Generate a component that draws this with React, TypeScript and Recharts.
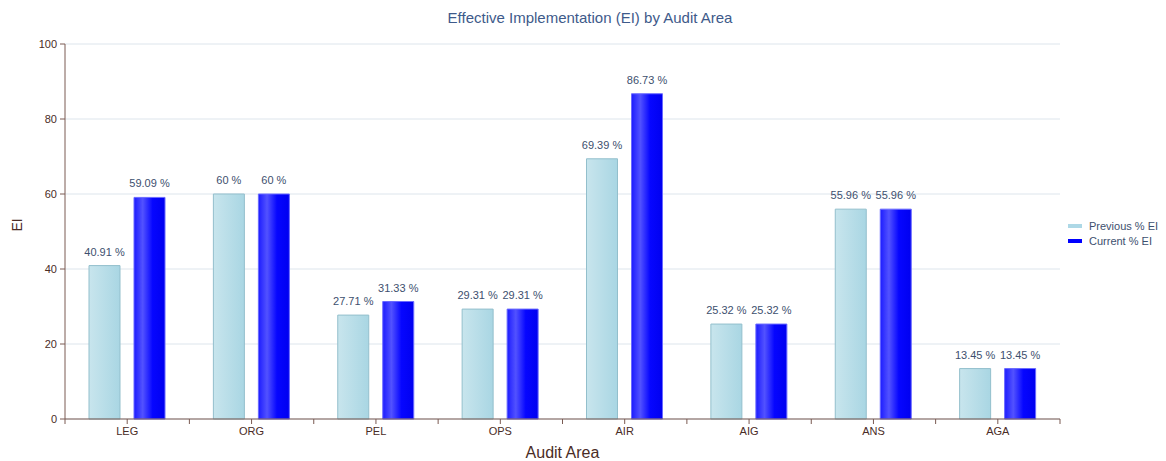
import { BarChart, Bar, XAxis, YAxis, CartesianGrid, Legend, LabelList } from 'recharts';

const areas = ['LEG', 'ORG', 'PEL', 'OPS', 'AIR', 'AIG', 'ANS', 'AGA'];
const previousEI = [40.91, 60, 27.71, 29.31, 69.39, 25.32, 55.96, 13.45];
const currentEI = [59.09, 60, 31.33, 29.31, 86.73, 25.32, 55.96, 13.45];
const yTicks = [0, 20, 40, 60, 80, 100];

const seriesNames = ['Previous % EI', 'Current % EI'];
const seriesColors = ['#add8e6', '#0000ff'];

const data = areas.map((area, i) => ({
  area,
  previous: previousEI[i],
  current: currentEI[i],
}));

const FONT = '"Liberation Sans", Arial, sans-serif';
const AXIS = '#7a5a52';
const TICK_TEXT = '#4a2c26';
const LABEL_TEXT = '#3d4f6e';

// category label + a tick at each band boundary
const AreaTick = (props: any) => {
  const { x, y, payload, index } = props;
  const half = payload.offset || 0;
  const axisY = y - 7;
  return (
    <g>
      <line x1={x - half} x2={x - half} y1={axisY} y2={axisY + 5} stroke={AXIS} />
      {index === areas.length - 1 && (
        <line x1={x + half} x2={x + half} y1={axisY} y2={axisY + 5} stroke={AXIS} />
      )}
      <text x={x} y={y} dy={9} textAnchor="middle" fontSize={11} fill={TICK_TEXT} fontFamily={FONT}>
        {payload.value}
      </text>
    </g>
  );
};

// value label above a bar, kept on one line
const ValueLabel = (props: any) => {
  const { x, y, width, value } = props;
  return (
    <text x={x + width / 2} y={y - 10} textAnchor="middle" fontSize={11} fill={LABEL_TEXT} fontFamily={FONT}>
      {`${value} %`}
    </text>
  );
};

const LegendBox = () => (
  <div style={{ paddingLeft: 8, fontFamily: FONT, fontSize: 11, color: LABEL_TEXT, whiteSpace: 'nowrap', marginTop: 6 }}>
    {seriesNames.map((name, i) => (
      <div key={name} style={{ display: 'flex', alignItems: 'center', height: 15 }}>
        <svg width={14} height={14} style={{ marginRight: 7, flexShrink: 0 }}>
          <line x1={0} x2={14} y1={7} y2={7} stroke={seriesColors[i]} strokeWidth={4} />
        </svg>
        <span>{name}</span>
      </div>
    ))}
  </div>
);

export default function App() {
  return (
    <div style={{ position: 'absolute', left: 0, top: 0, width: 1166, height: 461, fontFamily: FONT }}>
      <div
        style={{
          position: 'absolute',
          top: 9,
          left: 0,
          width: 1180,
          textAlign: 'center',
          fontSize: 15,
          color: '#3e5a8a',
        }}
      >
        Effective Implementation (EI) by Audit Area
      </div>
      <BarChart
        width={1166}
        height={461}
        data={data}
        margin={{ top: 44, right: 6, bottom: 0, left: 10 }}
        barSize={31}
        barGap={14}
      >
        <defs>
          <linearGradient id="prevFill" x1="0" y1="0" x2="1" y2="0">
            <stop offset="0%" stopColor="#c8e5ed" />
            <stop offset="100%" stopColor="#a9d6e3" />
          </linearGradient>
          <linearGradient id="currFill" x1="0" y1="0" x2="1" y2="0">
            <stop offset="0%" stopColor="#1c1cff" />
            <stop offset="28%" stopColor="#5252ff" />
            <stop offset="60%" stopColor="#0606ff" />
            <stop offset="100%" stopColor="#0000f0" />
          </linearGradient>
        </defs>
        <CartesianGrid vertical={false} stroke="#dde5ec" />
        <XAxis
          dataKey="area"
          height={42}
          stroke={AXIS}
          tickSize={5}
          tickMargin={2}
          tick={<AreaTick />}
          label={{ value: 'Audit Area', position: 'insideBottom', offset: 3, fontSize: 16, fill: TICK_TEXT, fontFamily: FONT }}
        />
        <YAxis
          width={55}
          domain={[0, 100]}
          ticks={yTicks}
          stroke={AXIS}
          tickSize={5}
          tickMargin={3}
          tick={{ fontSize: 11, fill: TICK_TEXT, fontFamily: FONT }}
          label={{ value: 'EI', angle: -90, position: 'insideLeft', offset: 7, fontSize: 14, fill: TICK_TEXT, fontFamily: FONT }}
        />
        <Legend layout="vertical" align="right" verticalAlign="middle" width={100} content={<LegendBox />} />
        <Bar dataKey="previous" name={seriesNames[0]} fill="url(#prevFill)" stroke="#93bfcc" isAnimationActive={false}>
          <LabelList dataKey="previous" content={<ValueLabel />} />
        </Bar>
        <Bar dataKey="current" name={seriesNames[1]} fill="url(#currFill)" stroke="#6a6aff" isAnimationActive={false}>
          <LabelList dataKey="current" content={<ValueLabel />} />
        </Bar>
      </BarChart>
    </div>
  );
}
